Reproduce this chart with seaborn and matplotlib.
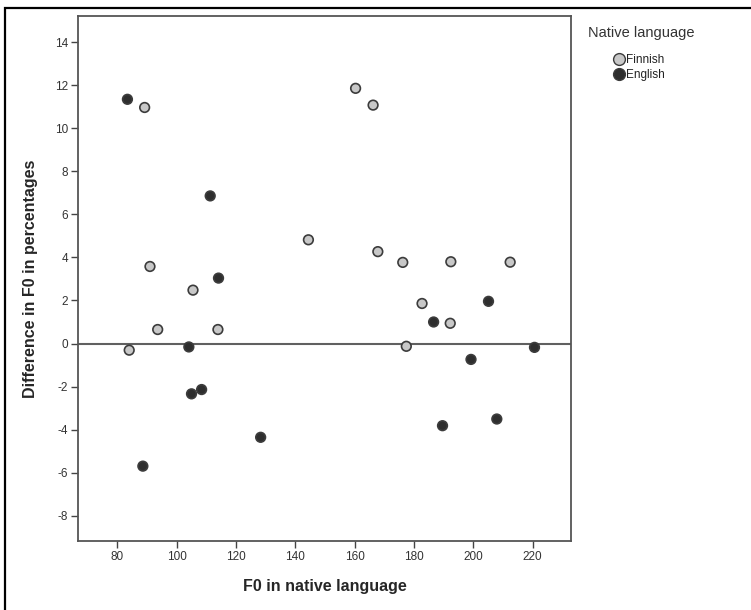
import pandas as pd
import seaborn as sns
import matplotlib
matplotlib.use("Agg")
from matplotlib import pyplot as plt
from matplotlib.patches import Rectangle
from matplotlib.lines import Line2D

fin_f0 = [89.2, 160.3, 166.2, 91.0, 144.4, 167.8, 176.2, 192.4, 212.4, 105.5,
          182.7, 93.6, 113.9, 192.2, 84.0, 177.4]
fin_diff = [10.97, 11.86, 11.08, 3.58, 4.82, 4.27, 3.77, 3.80, 3.78, 2.48,
            1.86, 0.65, 0.65, 0.94, -0.31, -0.13]
eng_f0 = [83.4, 111.3, 114.1, 205.1, 186.6, 104.1, 220.6, 199.2, 108.4, 105.0,
          128.3, 189.6, 207.9, 88.6]
eng_diff = [11.35, 6.86, 3.04, 1.96, 1.00, -0.16, -0.18, -0.74, -2.14, -2.34,
            -4.36, -3.82, -3.51, -5.70]
groups = ["Finnish", "English"]
xticks = [80, 100, 120, 140, 160, 180, 200, 220]
yticks = [-8, -6, -4, -2, 0, 2, 4, 6, 8, 10, 12, 14]

data = pd.DataFrame({
    "f0": fin_f0 + eng_f0,
    "diff": fin_diff + eng_diff,
    "lang": ["Finnish"] * len(fin_f0) + ["English"] * len(eng_f0),
})

sns.set_style("white")
plt.rcParams["font.family"] = ["Liberation Sans", "DejaVu Sans"]
plt.rcParams["axes.unicode_minus"] = False

palette = {"Finnish": "#c8c8c8", "English": "#2e2e2e"}
edge = "#3c3c3c"

fig = plt.figure(figsize=(7.51, 6.10), dpi=100)
ax = fig.add_axes([0.1039, 0.1131, 0.6564, 0.8599])

ax.axhline(0, color="#606060", lw=1.5, zorder=1)
sns.scatterplot(data=data, x="f0", y="diff", hue="lang", hue_order=groups,
                palette=palette, s=48, edgecolor=edge, linewidth=1.2,
                legend=False, ax=ax, zorder=3)

ax.set_xlim(66.75, 232.9)
ax.set_ylim(-9.18, 15.2)
ax.set_xticks(xticks)
ax.set_yticks(yticks)
ax.tick_params(axis="both", direction="out", length=5, width=1, color="#444444",
               labelsize=8.5, labelcolor="#333333", left=True, bottom=True, pad=2)
for sp in ax.spines.values():
    sp.set_color("#555555")
    sp.set_linewidth(1.3)

ax.set_xlabel("F0 in native language", fontsize=11.5, fontweight="bold", labelpad=12)
ax.set_ylabel("Difference in F0 in percentages", fontsize=11.5, fontweight="bold", labelpad=12)

# legend: title on its own, keys indented below it
fig.text(588 / 751, 1 - 33 / 610, "Native language", fontsize=10.5, color="#333333",
         va="center", ha="left")
handles = [Line2D([], [], ls="", marker="o", markersize=8.5, markerfacecolor=palette[g],
                  markeredgecolor=edge, markeredgewidth=1.0, label=g) for g in groups]
leg = fig.legend(handles=handles, loc="upper left",
                 bbox_to_anchor=(605 / 751, 1 - 48 / 610), frameon=False, fontsize=8.5,
                 handletextpad=0.0, labelspacing=0.25, borderpad=0, handlelength=1.3)
for t in leg.get_texts():
    t.set_color("#222222")

# outer frame, only top and left visible in the crop
fig.patches.append(Rectangle((5 / 751, -0.2), 1.2, 1.2 - 8 / 610,
                             transform=fig.transFigure, fill=False,
                             edgecolor="black", lw=1.6, zorder=10))

fig.savefig("out.png", dpi=100)
